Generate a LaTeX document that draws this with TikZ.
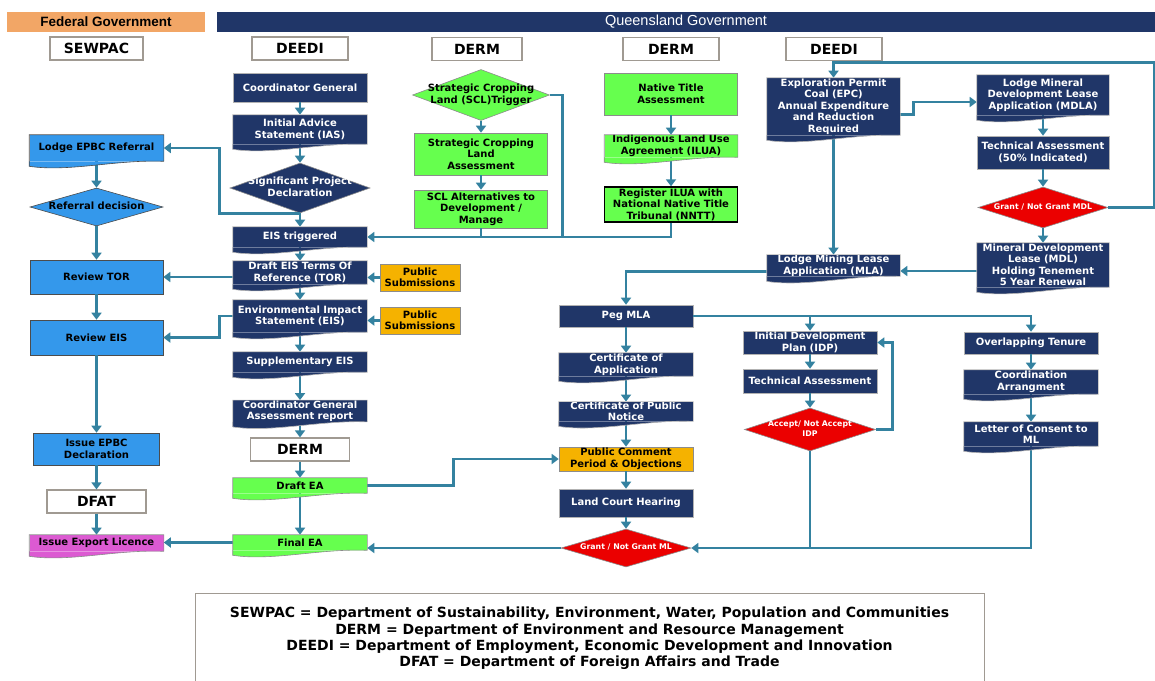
\documentclass[tikz,border=0pt]{standalone}
\usepackage{fontspec}
\setmainfont{DejaVu Sans}
\newfontfamily\arialfont{Liberation Sans}
\usepackage{tikz}
\usetikzlibrary{shapes.geometric, arrows.meta, calc}
\definecolor{navy}{RGB}{32,54,104}
\definecolor{skyblue}{RGB}{52,152,235}
\definecolor{limegreen}{RGB}{102,255,78}
\definecolor{amber}{RGB}{245,178,0}
\definecolor{alertred}{RGB}{235,0,0}
\definecolor{magentabox}{RGB}{220,90,210}
\definecolor{linkteal}{RGB}{52,130,160}
\definecolor{fedorange}{RGB}{242,166,102}
\definecolor{lblgray}{RGB}{160,154,146}
\newcommand{\dtext}[1]{\makebox[0pt]{\begin{tabular}{@{}c@{}}#1\end{tabular}}}

\begin{document}
\begin{tikzpicture}[
  x=1pt, y=-1pt,
  box/.style={rectangle, draw=black!30, line width=0.6pt, minimum width=134pt, text width=130pt, align=center, inner sep=0pt, font=\fontsize{10}{11.5}\selectfont\bfseries},
  navybox/.style={box, fill=navy, text=white},
  bluebox/.style={box, fill=skyblue, draw=black!70},
  greenbox/.style={box, fill=limegreen, draw=black!45},
  amberbox/.style={box, fill=amber, draw=black!45},
  doc/.style={draw=none},
  dept/.style={rectangle, draw=lblgray, line width=1.2pt, fill=white, minimum height=23pt, inner sep=0pt, font=\fontsize{14}{16}\selectfont\bfseries},
  decision/.style={diamond, inner sep=0pt, draw=black!45, line width=0.6pt, font=\fontsize{10}{11.5}\selectfont\bfseries},
  reddecision/.style={decision, fill=alertred, text=white, font=\fontsize{7.8}{9.5}\selectfont\bfseries},
  arrow/.style={-{Triangle[length=7pt,width=10pt]}, linkteal, line width=2.7pt},
  plainlink/.style={linkteal, line width=2.7pt},
]
\useasboundingbox (0,0) rectangle (1155,680);

% Headers
\node[fill=fedorange, minimum width=198pt, minimum height=20pt, inner sep=0pt, font=\arialfont\bfseries\fontsize{13.5}{15}\selectfont] (fedgov) at (106,21.5) {Federal Government};
\node[fill=navy, text=white, minimum width=938pt, minimum height=20pt, inner sep=0pt, font=\arialfont\fontsize{14.5}{16}\selectfont] (qldgov) at (686,21.5) {Queensland Government};

% Departments
\node[dept, minimum width=93pt] (sewpac) at (96.5,48.5) {SEWPAC};
\node[dept, minimum width=96pt] (deedi) at (300,48.5) {DEEDI};
\node[dept, minimum width=90pt] (derm) at (477,49) {DERM};
\node[dept, minimum width=96pt] (dermnt) at (671,49) {DERM};
\node[dept, minimum width=96pt] (deediml) at (834,49) {DEEDI};
\node[dept, minimum width=99pt] (dermea) at (300,449.5) {DERM};
\node[dept, minimum width=99pt] (dfat) at (96.5,501.5) {DFAT};

% Federal column
\node[bluebox, doc, minimum height=26pt] (epbc) at (96.5,148) {Lodge EPBC Referral};
\node[decision, fill=skyblue, draw=black!70, minimum width=133pt, minimum height=38pt] (refdec) at (96.5,207) {\dtext{Referral decision}};
\node[bluebox, minimum width=133pt, text width=128pt, minimum height=34pt] (revtor) at (96.5,277) {Review TOR};
\node[bluebox, minimum width=133pt, text width=128pt, minimum height=35pt] (reveis) at (96.5,337.5) {Review EIS};
\node[bluebox, minimum width=126pt, text width=122pt, minimum height=32pt] (epbcdec) at (96.5,449) {Issue EPBC\\Declaration};
\node[box, doc, fill=magentabox, minimum height=16pt] (exportlic) at (96.5,543) {Issue Export Licence};

% EIS column
\node[navybox, minimum height=29pt] (coordgen) at (300,87.5) {Coordinator General};
\node[navybox, doc, minimum height=29pt] (ias) at (300,129.5) {Initial Advice\\Statement (IAS)};
\node[decision, fill=navy, text=white, minimum width=140pt, minimum height=50pt] (spd) at (300,188) {\dtext{Significant Project\\Declaration}};
\node[navybox, doc, minimum height=20pt] (eistrig) at (300,237) {EIS triggered};
\node[navybox, doc, minimum height=23pt] (drafttor) at (300,272.5) {Draft EIS Terms Of\\Reference (TOR)};
\node[navybox, doc, minimum height=32pt] (eis) at (300,316) {Environmental Impact\\Statement (EIS)};
\node[navybox, doc, minimum height=20pt] (suppeis) at (300,362) {Supplementary EIS};
\node[navybox, doc, minimum height=18pt] (cgreport) at (300,411) {Coordinator General\\Assessment report};
\node[greenbox, doc, minimum height=15pt] (draftea) at (300,485.5) {Draft EA};
\node[greenbox, doc, minimum height=15pt] (finalea) at (300,542.5) {Final EA};
\node[amberbox, minimum width=80pt, text width=78pt, minimum height=27pt] (pubsubtor) at (420,277.5) {Public\\Submissions};
\node[amberbox, minimum width=80pt, text width=78pt, minimum height=27pt] (pubsubeis) at (420,320.5) {Public\\Submissions};

% SCL column
\node[decision, fill=limegreen, minimum width=137pt, minimum height=51pt] (scltrig) at (481,95) {\dtext{Strategic Cropping\\Land (SCL)Trigger}};
\node[greenbox, minimum width=133pt, minimum height=42pt] (sclassess) at (481,154) {Strategic Cropping\\Land\\Assessment};
\node[greenbox, minimum width=133pt, minimum height=38pt] (sclalt) at (481,209) {SCL Alternatives to\\Development /\\Manage};

% Native title column
\node[greenbox, minimum width=133pt, minimum height=42pt] (nativetitle) at (671,94) {Native Title\\Assessment};
\node[greenbox, doc, minimum width=133pt, minimum height=22pt] (ilua) at (671,146) {Indigenous Land Use\\Agreement (ILUA)};
\node[greenbox, draw=black, line width=1.4pt, minimum width=133pt, minimum height=35pt] (nntt) at (671,204.5) {Register ILUA with\\National Native Title\\Tribunal (NNTT)};

% Tenure columns
\node[navybox, doc, minimum width=133pt, minimum height=57pt] (epc) at (833.5,106.5) {Exploration Permit\\Coal (EPC)\\Annual Expenditure\\and Reduction\\Required};
\node[navybox, doc, minimum width=132pt, minimum height=40pt] (mdla) at (1043,95) {Lodge Mineral\\Development Lease\\Application (MDLA)};
\node[navybox, minimum width=132pt, minimum height=33pt] (techmdl) at (1043,152.5) {Technical Assessment\\(50\% Indicated)};
\node[reddecision, minimum width=130pt, minimum height=41pt] (grantmdl) at (1043,207.5) {\dtext{Grant / Not Grant MDL}};
\node[navybox, doc, minimum width=132pt, minimum height=44pt] (mdl) at (1043,265) {Mineral Development\\Lease (MDL)\\Holding Tenement\\5 Year Renewal};
\node[navybox, doc, minimum width=133pt, minimum height=21pt] (mla) at (833.5,265.5) {Lodge Mining Lease\\Application (MLA)};

% Mining lease column
\node[navybox, minimum height=22pt] (pegmla) at (626,316) {Peg MLA};
\node[navybox, doc, minimum height=23pt] (certapp) at (626,364.5) {Certificate of\\Application};
\node[navybox, doc, minimum height=19pt] (certnotice) at (626,411.5) {Certificate of Public\\Notice};
\node[amberbox, minimum height=24pt] (pubcomment) at (626,459) {Public Comment\\Period \& Objections};
\node[navybox, minimum height=28pt] (landcourt) at (626,503) {Land Court Hearing};
\node[reddecision, minimum width=130pt, minimum height=38pt] (grantml) at (626,548) {\dtext{Grant / Not Grant ML}};

% IDP and overlapping tenure
\node[navybox, minimum height=23pt] (idp) at (810,342.5) {Initial Development\\Plan (IDP)};
\node[navybox, minimum height=24pt] (techidp) at (810,381) {Technical Assessment};
\node[reddecision, minimum width=131pt, minimum height=43pt] (acceptidp) at (810,429.5) {\dtext{Accept/ Not Accept\\IDP}};
\node[navybox, minimum height=22pt] (overlap) at (1031,343) {Overlapping Tenure};
\node[navybox, doc, minimum height=24pt] (coordarr) at (1031,382) {Coordination\\Arrangment};
\node[navybox, doc, minimum height=24pt] (consent) at (1031,434) {Letter of Consent to\\ML};

% Legend
\node[draw=lblgray, line width=1pt, minimum width=789pt, minimum height=91pt, align=center, font=\fontsize{14}{16.3}\selectfont\bfseries] (legend) at (589.5,638.5) {SEWPAC = Department of Sustainability, Environment, Water, Population and Communities\\DERM = Department of Environment and Resource Management\\DEEDI = Department of Employment, Economic Development and Innovation\\DFAT = Department of Foreign Affairs and Trade};

% Straight flows
\foreach \a/\b in {epbc/refdec, refdec/revtor, revtor/reveis, reveis/epbcdec, epbcdec/dfat, dfat/exportlic,
  coordgen/ias, ias/spd, spd/eistrig, eistrig/drafttor, drafttor/eis, eis/suppeis, suppeis/cgreport, cgreport/dermea, dermea/draftea, draftea/finalea,
  scltrig/sclassess, sclassess/sclalt, nativetitle/ilua, ilua/nntt,
  mdla/techmdl, techmdl/grantmdl, grantmdl/mdl, epc/mla,
  pegmla/certapp, certapp/certnotice, certnotice/pubcomment, pubcomment/landcourt, landcourt/grantml,
  idp/techidp, techidp/acceptidp, overlap/coordarr, coordarr/consent}
  \draw[arrow] (\a.south) -- (\b.north);

% Federal links
\draw[arrow] (spd.south) -| ([xshift=55.5pt]epbc.east) -- (epbc.east);
\draw[arrow] (revtor.east -| drafttor.west) -- (revtor.east);
\draw[arrow] (eis.west) -| ([xshift=56pt]reveis.east) -- (reveis.east);
\draw[arrow] (pubsubtor.west) -- (pubsubtor.west -| drafttor.east);
\draw[arrow] (pubsubeis.west) -- (pubsubeis.west -| eis.east);

% Into EIS triggered
\draw[plainlink] (scltrig.east) -- ++(13pt,0) coordinate (sclturn) -- (sclturn |- eistrig.east);
\draw[plainlink] (sclalt.south) -- (sclalt.south |- eistrig.east);
\draw[arrow] (nntt.south) |- (eistrig.east);

% Tenure links
\draw[arrow] (grantmdl.east) -- ++(46pt,0) |- ([yshift=15pt]epc.north) -- (epc.north);
\draw[arrow] ([yshift=-8pt]epc.east) -- ++(13pt,0) |- ([yshift=-7pt]mdla.west);
\draw[arrow] ([yshift=-6pt]mdl.west) -- ([yshift=-6pt]mdl.west -| mla.east);
\draw[arrow] ([yshift=-6pt]mla.west) -| (pegmla.north);
\draw[arrow] (pegmla.east) -| (overlap.north);
\draw[arrow] (pegmla.east -| idp.north) -- (idp.north);
\draw[arrow] (acceptidp.east) -- ++(17pt,0) |- (idp.east);
\draw[arrow] (acceptidp.south) |- (grantml.east);
\draw[plainlink] (consent.south) |- (acceptidp.south |- grantml.east);

% EA and licence
\draw[arrow] (draftea.east) -- ++(86pt,0) |- (pubcomment.west);
\draw[arrow] (grantml.west) -- (grantml.west -| finalea.east);
\draw[arrow] (finalea.west) -- (finalea.west -| exportlic.east);

% Document bottoms
\foreach \n/\fc/\bc in {epbc/skyblue/black!70, exportlic/magentabox/black!45,
  ias/navy/black!30, eistrig/navy/black!30, drafttor/navy/black!30, eis/navy/black!30, suppeis/navy/black!30, cgreport/navy/black!30,
  draftea/limegreen/black!45, finalea/limegreen/black!45, ilua/limegreen/black!45,
  epc/navy/black!30, mdla/navy/black!30, mdl/navy/black!30, mla/navy/black!30,
  certapp/navy/black!30, certnotice/navy/black!30, coordarr/navy/black!30, consent/navy/black!30}{
  \fill[\fc] (\n.south west) -- ([yshift=-5pt]\n.south west)
    .. controls ($(\n.south west)!0.3!(\n.south east)+(0,-11pt)$) and ($(\n.south west)!0.65!(\n.south east)+(0,2pt)$) .. (\n.south east) -- cycle;
  \draw[\bc, line width=0.6pt] (\n.south east) -- (\n.north east) -- (\n.north west) -- ([yshift=-5pt]\n.south west)
    .. controls ($(\n.south west)!0.3!(\n.south east)+(0,-11pt)$) and ($(\n.south west)!0.65!(\n.south east)+(0,2pt)$) .. (\n.south east);
}
\end{tikzpicture}
\end{document}
